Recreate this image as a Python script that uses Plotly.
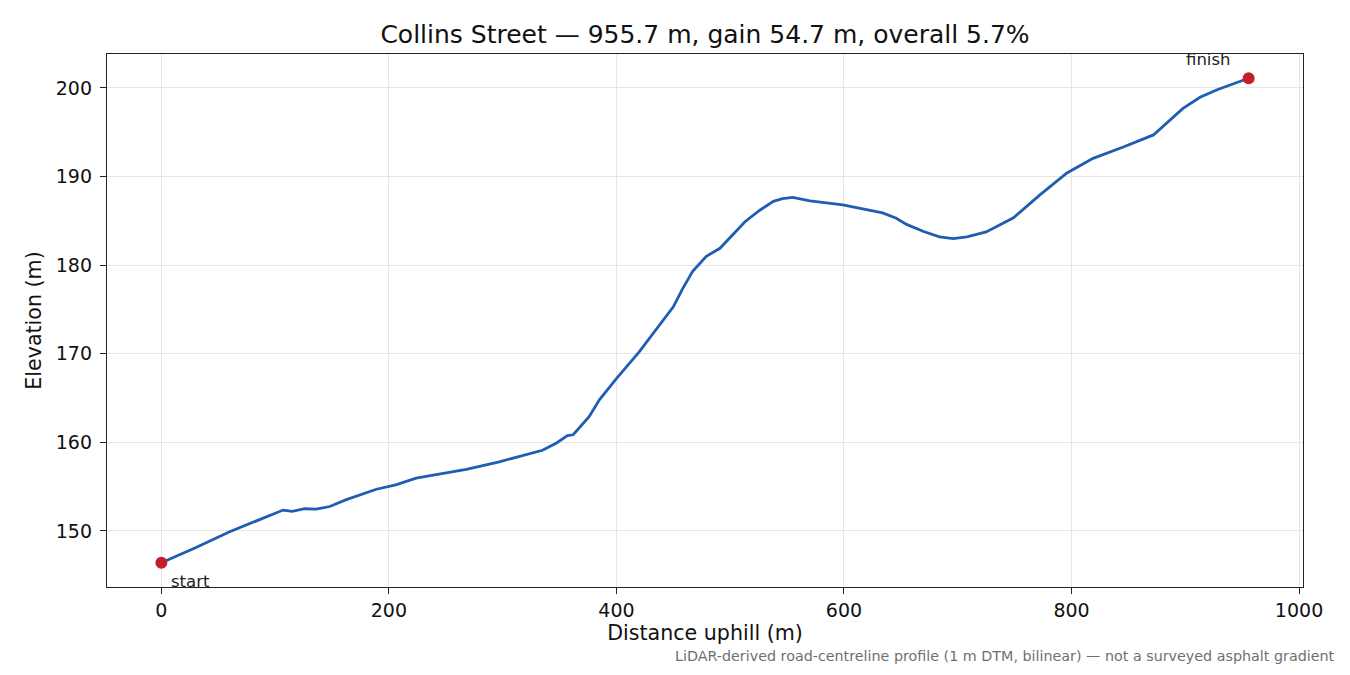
import plotly.graph_objects as go

# profile: distance along road (m) vs elevation (m)
distance = [0, 30, 60, 85, 107, 115, 126, 136, 148, 162, 189, 206, 224, 239, 256,
            268, 297, 315, 335, 347, 357, 362, 371, 376, 385, 400, 420, 435, 450,
            458, 467, 479, 491, 513, 526, 538, 546, 555, 570, 599, 617, 634, 646,
            655, 670, 684, 696, 708, 725, 749, 772, 796, 819, 845, 872, 884, 898,
            913, 928, 955.7]
elevation = [146.4, 148.1, 149.9, 151.2, 152.35, 152.2, 152.5, 152.45, 152.75, 153.5,
             154.7, 155.2, 155.95, 156.3, 156.65, 156.95, 157.8, 158.45, 159.1, 159.9,
             160.75, 160.85, 162.2, 162.9, 164.8, 167.2, 170.2, 172.7, 175.3, 177.3,
             179.3, 181.0, 181.9, 184.9, 186.2, 187.2, 187.5, 187.65, 187.25, 186.8,
             186.3, 185.9, 185.3, 184.6, 183.8, 183.2, 183.0, 183.2, 183.75, 185.35,
             187.9, 190.4, 192.05, 193.3, 194.7, 196.1, 197.7, 198.95, 199.8, 201.1]

street = "Collins Street"
length_m = 955.7
gain_m = 54.7
grade_pct = 5.7

FONT = "DejaVu Sans"
INK = "#111111"

fig = go.Figure()
fig.add_trace(go.Scatter(x=distance, y=elevation, mode="lines",
                         line=dict(color="#1f5db2", width=2.8),
                         hoverinfo="skip", showlegend=False))
fig.add_trace(go.Scatter(x=[distance[0], distance[-1]], y=[elevation[0], elevation[-1]],
                         mode="markers", marker=dict(color="#c41e2a", size=12),
                         cliponaxis=False, hoverinfo="skip", showlegend=False))

fig.add_annotation(x=distance[0], y=elevation[0], text="start", showarrow=False,
                   xanchor="left", yanchor="middle", xshift=8, yshift=-19,
                   font=dict(family=FONT, size=16.5, color="#222"))
fig.add_annotation(x=distance[-1], y=elevation[-1], text="finish", showarrow=False,
                   xanchor="center", yanchor="middle", xshift=-40, yshift=19,
                   font=dict(family=FONT, size=16.5, color="#222"))
fig.add_annotation(xref="paper", yref="paper", x=1.0276, y=-0.113,
                   text="LiDAR-derived road-centreline profile (1 m DTM, bilinear) — not a surveyed asphalt gradient",
                   showarrow=False, xanchor="right", yanchor="top", borderpad=0,
                   font=dict(family=FONT, size=14.3, color="#707070"))

span = length_m
ypad = (max(elevation) - min(elevation)) * 0.05
axis_style = dict(showline=True, linecolor="#222", linewidth=1.3, mirror=True,
                  ticks="outside", ticklen=6, tickcolor="#222", tickwidth=1.2,
                  zeroline=False, showgrid=True, gridcolor="#e6e6e6", gridwidth=1,
                  tickfont=dict(family=FONT, size=19, color=INK))

fig.update_xaxes(range=[-0.05 * span, span * 1.05], tickvals=[0, 200, 400, 600, 800, 1000],
                 title=dict(text="Distance uphill (m)", standoff=5,
                            font=dict(family=FONT, size=20.6, color=INK)),
                 **axis_style)
fig.update_yaxes(range=[min(elevation) - ypad, max(elevation) + ypad],
                 tickvals=[150, 160, 170, 180, 190, 200], ticklabelstandoff=4,
                 title=dict(text="Elevation (m)", standoff=8,
                            font=dict(family=FONT, size=20.6, color=INK)),
                 **axis_style)

# page body has an 8 px margin, so the figure is 16 px smaller than the window
fig.update_layout(
    width=1334, height=659,
    margin=dict(l=99, r=39, t=46, b=80),
    paper_bgcolor="white", plot_bgcolor="white",
    title=dict(text=f"{street} — {length_m} m, gain {gain_m} m, overall {grade_pct}%",
               x=0.5, xref="paper", xanchor="center",
               y=1 - 26 / 659, yref="container", yanchor="middle",
               font=dict(family=FONT, size=25, color=INK)),
)

fig.write_html("out.html")
